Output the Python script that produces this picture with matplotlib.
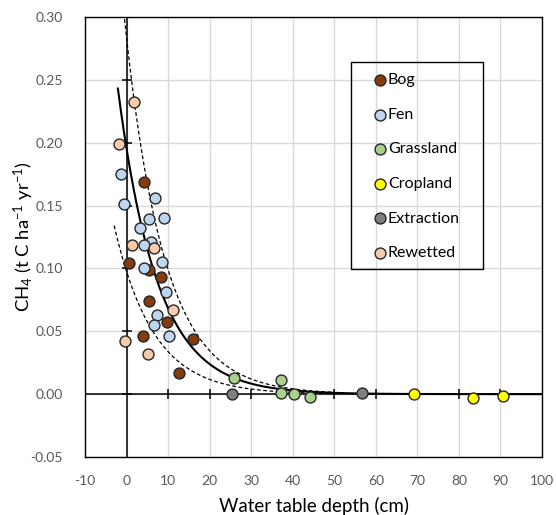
import numpy as np
import matplotlib.pyplot as plt
from matplotlib.patches import Rectangle

plt.rcParams['font.family'] = ['Lato', 'DejaVu Sans']
plt.rcParams['mathtext.default'] = 'regular'
plt.rcParams['axes.unicode_minus'] = False

# water table depth (cm) and CH4 (t C ha-1 yr-1)
bog_x = [4.3, 0.5, 5.3, 8.3, 5.4, 9.8, 4.0, 16.1, 12.6]
bog_y = [0.169, 0.104, 0.099, 0.093, 0.074, 0.057, 0.046, 0.044, 0.017]
fen_x = [-1.3, 6.8, -0.7, 5.3, 9.0, 3.2, 5.8, 4.2, 8.5, 4.3, 9.6, 7.2, 6.7, 10.1]
fen_y = [0.175, 0.156, 0.151, 0.139, 0.140, 0.132, 0.121, 0.119, 0.105, 0.100,
         0.081, 0.063, 0.055, 0.046]
grass_x = [25.9, 37.1, 37.2, 40.3, 44.2]
grass_y = [0.0127, 0.011, 0.001, 0.0, -0.002]
crop_x = [69.3, 83.5, 90.6]
crop_y = [0.0003, -0.003, -0.0016]
extr_x = [25.3, 56.7]
extr_y = [0.0, 0.0013]
rewet_x = [1.9, -1.9, 1.3, 6.7, 11.2, -0.5, 5.2]
rewet_y = [0.232, 0.199, 0.119, 0.116, 0.067, 0.042, 0.032]

# exponential fit y = a * exp(-b * x) and its bounds
fit_a, fit_b = 0.195, 0.105
upper_a, upper_b = 0.283, 0.1053
lower_a, lower_b = 0.0975, 0.106

xticks = np.arange(-10, 101, 10)
yticks = np.arange(-0.05, 0.301, 0.05)

fig = plt.figure(figsize=(5.56, 5.15), dpi=100)
ax = fig.add_axes([0.153, 0.1126, 0.8218, 0.8544])
ax.set_xlim(-10, 100)
ax.set_ylim(-0.05, 0.30)

ax.grid(True, color='#d9d9d9', lw=1)
ax.set_axisbelow(True)
ax.axhline(0, color='black', lw=1.1, zorder=1)
ax.axvline(0, color='black', lw=1.1, zorder=1)
# cross ticks on the zero axes (not at the frame edges)
xt_in = xticks[(xticks > -10) & (xticks < 100) & (xticks != 0)]
yt_in = yticks[1:-1]
ax.scatter(xt_in, np.zeros(len(xt_in)), marker='|', s=55, color='black', lw=1.1, zorder=1)
ax.scatter(np.zeros(len(yt_in)), yt_in, marker='_', s=55, color='black', lw=1.1, zorder=1)

xs = np.linspace(-2.1, 100, 400)
ax.plot(xs, fit_a * np.exp(-fit_b * xs), color='black', lw=1.5, zorder=2)
xu = np.linspace(-0.5, 50, 300)
ax.plot(xu, upper_a * np.exp(-upper_b * xu), color='black', lw=0.9, ls=(0, (3, 2)), zorder=2)
xl = np.linspace(-3, 50, 300)
ax.plot(xl, lower_a * np.exp(-lower_b * xl), color='black', lw=0.9, ls=(0, (3, 2)), zorder=2)

groups = [
    ('Bog', bog_x, bog_y, '#843c0c'),
    ('Fen', fen_x, fen_y, '#bdd7ee'),
    ('Grassland', grass_x, grass_y, '#a9d18e'),
    ('Cropland', crop_x, crop_y, '#ffff00'),
    ('Extraction', extr_x, extr_y, '#7f7f7f'),
    ('Rewetted', rewet_x, rewet_y, '#f8cbad'),
]
for name, gx, gy, c in groups:
    ax.scatter(gx, gy, s=62, color=c, edgecolor='#262626', lw=1, label=name, zorder=3)

ax.set_xticks(xticks)
ax.set_yticks(yticks)
ax.set_yticklabels([f'{v:.2f}' for v in yticks])
ax.tick_params(length=0, labelsize=10, colors='#595959')
ax.tick_params(axis='x', pad=13)
ax.tick_params(axis='y', pad=16)
for s in ax.spines.values():
    s.set_color('black')
    s.set_linewidth(1)

ax.set_xlabel('Water table depth (cm)', fontsize=13.5, va='top')
ax.xaxis.set_label_coords(0.5, -0.09)
ax.set_ylabel('CH$_4$ (t C ha$^{-1}$ yr$^{-1}$)', fontsize=13.3)
ax.yaxis.set_label_coords(-0.108, 0.5)

leg = ax.legend(loc='upper left', bbox_to_anchor=(373.6 / 556, 1 - 73 / 515),
                bbox_transform=fig.transFigure, fontsize=11.5, frameon=False,
                labelspacing=1.28, handletextpad=0.1, borderpad=0,
                borderaxespad=0, handlelength=0.8, scatterpoints=1)
fig.patches.append(Rectangle((351 / 556, 1 - 269 / 515), 132 / 556, 207 / 515,
                             transform=fig.transFigure, fill=False,
                             edgecolor='black', lw=1, zorder=5))

fig.savefig('out.png', dpi=100)
